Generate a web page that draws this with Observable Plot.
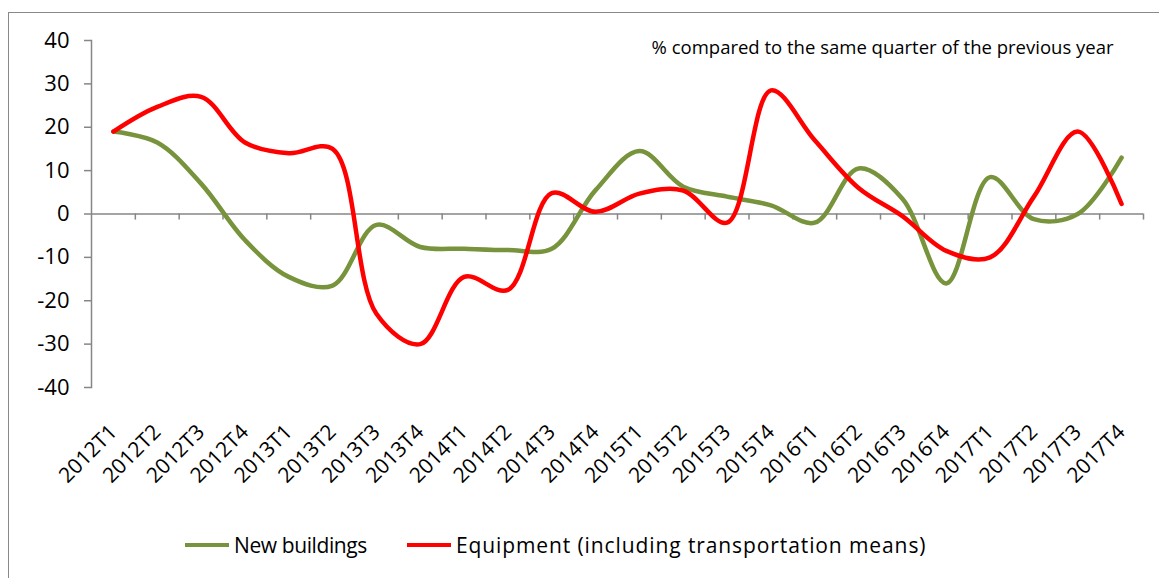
<!DOCTYPE html>
<html>
<head>
<meta charset="utf-8">
<script src="https://cdn.jsdelivr.net/npm/d3@7"></script>
<script src="https://cdn.jsdelivr.net/npm/@observablehq/plot@0.6"></script>
<style>
  body { margin: 0; background: #fff; font-family: "Open Sans", sans-serif; }
  #frame { position: absolute; left: 8px; top: 12px; width: 1300px; height: 800px; border: 1.5px solid #898989; box-sizing: border-box; }
  #chart { position: absolute; left: 0; top: 0; }
  #legend { position: absolute; top: 531px; left: 185px; display: flex; align-items: center; font-size: 21px; color: #000; }
  .sw { display: inline-block; width: 44px; height: 4px; margin-right: 5px; }
</style>
</head>
<body>
<div id="frame"></div>
<div id="chart"></div>
<div id="legend">
  <span class="sw" style="background:#77933C"></span><span style="letter-spacing:-0.4px">New buildings</span>
  <span class="sw" style="background:#FF0000; margin-left:40px"></span><span style="letter-spacing:0.9px">Equipment (including transportation means)</span>
</div>
<script>
const categories = ["2012T1","2012T2","2012T3","2012T4","2013T1","2013T2","2013T3","2013T4",
  "2014T1","2014T2","2014T3","2014T4","2015T1","2015T2","2015T3","2015T4",
  "2016T1","2016T2","2016T3","2016T4","2017T1","2017T2","2017T3","2017T4"];
const newBuildings = [19, 16.5, 7, -6, -14.5, -16.5, -2.5, -7.6, -8, -8.3, -8, 5.5,
  14.5, 6.3, 4, 2, -2, 10.5, 3.5, -16, 8.5, -1.2, 0, 13];
const equipment = [19, 24.7, 27, 16.5, 14, 15, -23, -30, -14.5, -17.5, 4.8, 0.5,
  4.7, 5.4, -2, 28.5, 17, 6, -0.5, -8.5, -10, 4, 19, 2.3];
const yTicks = [-40, -30, -20, -10, 0, 10, 20, 30, 40];
const seriesNames = ["New buildings", "Equipment (including transportation means)"];
const annotation = "% compared to the same quarter of the previous year";

const rows = [];
categories.forEach((c, i) => {
  rows.push({i, cat: c, series: seriesNames[0], value: newBuildings[i]});
});
categories.forEach((c, i) => {
  rows.push({i, cat: c, series: seriesNames[1], value: equipment[i]});
});
const boundaries = d3.range(1, categories.length + 1).map(i => i - 0.5);
const gray = "#868686";

const chart = Plot.plot({
  width: 1159,
  height: 500,
  marginLeft: 91,
  marginRight: 16,
  marginTop: 40,
  marginBottom: 113,
  style: {fontFamily: "'Open Sans', sans-serif", fontSize: "20px", color: "#000", background: "transparent"},
  x: {domain: [-0.5, categories.length - 0.5]},
  y: {domain: [-40, 40]},
  color: {domain: seriesNames, range: ["#77933C", "#FF0000"]},
  marks: [
    Plot.frame({anchor: "left", stroke: gray, strokeWidth: 1.5}),
    Plot.axisY({ticks: yTicks, tickSize: 7, tickPadding: 15, stroke: gray, strokeWidth: 1.5, fontSize: 22, label: null, tickFormat: d => d}),
    Plot.axisX({ticks: d3.range(categories.length), tickFormat: i => categories[i], tickRotate: -45, tickSize: 0, tickPadding: 41, fontSize: 21, label: null}),
    Plot.ruleY([0], {stroke: gray, strokeWidth: 1.5}),
    Plot.ruleX(boundaries, {x: d => d, y1: 0, y2: -1.4, stroke: gray, strokeWidth: 1.5}),
    Plot.line(rows, {x: "i", y: "value", z: "series", stroke: "series", strokeWidth: 4.5, curve: "catmull-rom"}),
    Plot.text([annotation], {frameAnchor: "top-right", text: d => d, dx: -30, dy: 8, textAnchor: "end", lineAnchor: "middle", fontSize: 18.5})
  ]
});
document.getElementById("chart").append(chart);
</script>
</body>
</html>
